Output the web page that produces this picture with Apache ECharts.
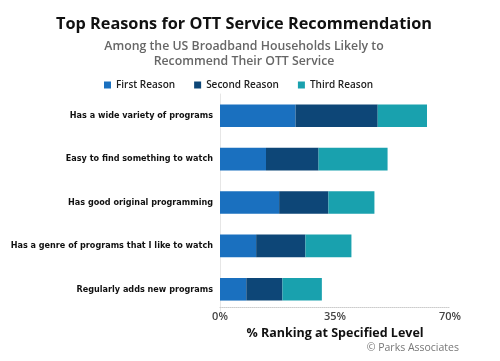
<!DOCTYPE html>
<html><head><meta charset="utf-8">
<script src="https://cdn.jsdelivr.net/npm/echarts@6/dist/echarts.min.js"></script>
<style>html,body{margin:0;padding:0;background:#fff}#c{width:500px;height:361px}</style>
</head><body><div id="c"></div>
<script>
var categories = ["Has a wide variety of programs","Easy to find something to watch","Has good original programming","Has a genre of programs that I like to watch","Regularly adds new programs"];
var firstReason = [23, 14, 18, 11, 8];
var secondReason = [25, 16, 15, 15, 11];
var thirdReason = [15, 21, 14, 14, 12];
var tickLabels = ["0%","35%","70%"];

var chart = echarts.init(document.getElementById('c'), null, {renderer:'canvas'});
var cat = categories.slice().reverse();
function rev(a){return a.slice().reverse();}
var barStyle = {type:'bar', stack:'s', barCategoryGap:'48%'};
chart.setOption({
  animation:false,
  title:[
    {text:'Top Reasons for OTT Service Recommendation', left:239, top:11, textAlign:'center',
     textStyle:{fontFamily:'Open Sans', fontWeight:'bold', fontSize:16.3, color:'#111'}},
    {text:'Among the US Broadband Households Likely to\nRecommend Their OTT Service', left:239, top:34, textAlign:'center',
     textStyle:{fontFamily:'Open Sans', fontWeight:600, fontSize:12.3, color:'#666', lineHeight:15}},
    {text:'© Parks Associates', right:36, top:338,
     textStyle:{fontFamily:'Open Sans', fontWeight:'normal', fontSize:10.5, color:'#777'}}
  ],
  legend:{top:75, left:99, itemWidth:7, itemHeight:7, itemGap:19, icon:'rect',
    textStyle:{fontFamily:'Open Sans', fontWeight:600, fontSize:10, color:'#222'},
    data:['First Reason','Second Reason','Third Reason']},
  grid:{left:220, right:50, top:94, bottom:50, outerBoundsMode:'none', containLabel:false},
  xAxis:{type:'value', min:0, max:70, interval:35, offset:-4,
    axisLabel:{formatter:function(v){return v+'%';}, fontFamily:'Open Sans', fontWeight:600, fontSize:11, color:'#444', margin:4},
    axisLine:{show:true, lineStyle:{color:'#ccc', type:'dotted'}},
    axisTick:{show:false}, splitLine:{show:false},
    name:'% Ranking at Specified Level', nameLocation:'middle', nameGap:18,
    nameTextStyle:{fontFamily:'Open Sans', fontWeight:'bold', fontSize:12.5, color:'#111'}},
  yAxis:{type:'category', data:cat,
    axisLine:{show:true, lineStyle:{color:'#e6e6e6'}}, axisTick:{show:false},
    axisLabel:{fontFamily:'DejaVu Sans Condensed', fontWeight:'bold', fontSize:9, color:'#111', margin:7}},
  series:[
    Object.assign({name:'First Reason', data:rev(firstReason), itemStyle:{color:'#1a70bf'}}, barStyle),
    Object.assign({name:'Second Reason', data:rev(secondReason), itemStyle:{color:'#0d4677'}}, barStyle),
    Object.assign({name:'Third Reason', data:rev(thirdReason), itemStyle:{color:'#19a1ae'}}, barStyle)
  ]
});
</script></body></html>
